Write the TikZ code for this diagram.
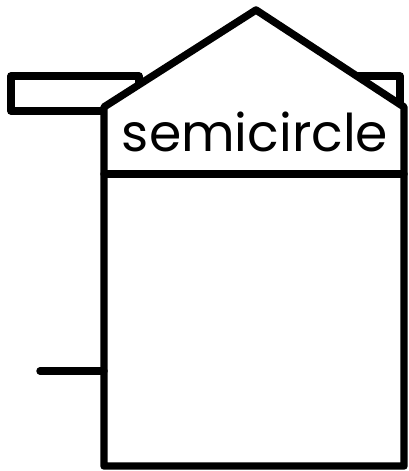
\documentclass[tikz,border=0pt]{standalone}
\usepackage{fontspec}
\setmainfont{Poppins}
\usepackage{tikz}

\begin{document}
\begin{tikzpicture}[x=0.025cm,y=-0.025cm,line width=5.3pt,line join=round,line cap=round]
\useasboundingbox (0,0) rectangle (408,471);
% side flags behind the house
\draw[fill=white] (11,76) rectangle (139,111);
\draw[fill=white] (269,76) rectangle (400,111);
% house
\draw[fill=white] (104,466) -- (104,107) -- (256,10) -- (404,107) -- (404,466) -- cycle;
\draw (104,174) -- (404,174);
\node[font=\fontsize{37}{42}\selectfont,inner sep=0pt] (name) at (255,132) {semicircle};
% tick on the left wall
\draw (40,371) -- (104,371);
\end{tikzpicture}
\end{document}
